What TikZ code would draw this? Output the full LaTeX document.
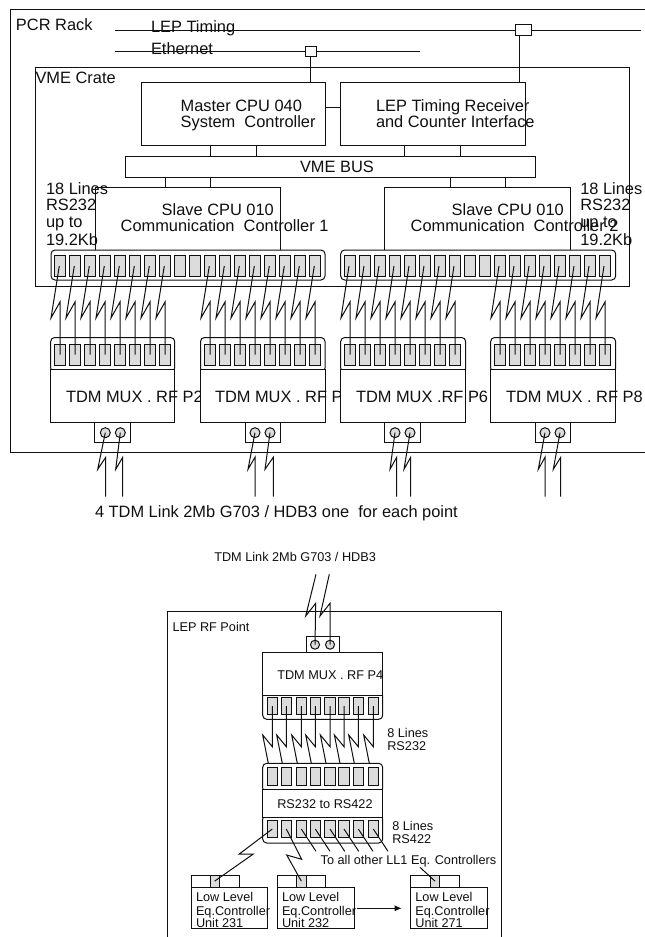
\documentclass[tikz,border=0pt]{standalone}
\usepackage{fontspec}
\setmainfont{Liberation Sans}
\usetikzlibrary{arrows.meta,calc}
\definecolor{cellgray}{HTML}{DCDCDC}
\definecolor{ink}{HTML}{101010}
\newcommand{\bx}[6][boxst]{%
  \pgfmathsetmacro{\bxw}{#5-#3}\pgfmathsetmacro{\bxh}{#6-#4}%
  \pgfmathsetmacro{\bxx}{(#5+#3)/2}\pgfmathsetmacro{\bxy}{(#6+#4)/2}%
  \node[#1,minimum width=\bxw pt,minimum height=\bxh pt] (#2) at (\bxx,\bxy) {};}
\tikzset{
  x=1pt,y=-1pt,
  boxst/.style={draw=ink,fill=white,line width=1pt,inner sep=0pt,outer sep=0pt,rectangle},
  strip/.style={boxst,rounded corners=4pt},
  cell/.style={draw=ink,fill=cellgray,line width=1pt,inner sep=0pt,outer sep=0pt,rectangle,minimum width=11pt,minimum height=21pt},
  cellb/.style={cell,minimum width=10.5pt,minimum height=17.5pt},
  port/.style={draw=ink,fill=cellgray,line width=1pt,circle,inner sep=0pt,outer sep=0pt,minimum size=10pt},
  wire/.style={draw=ink,line width=1pt,line join=miter},
  big/.style={font=\fontsize{16.4}{16}\selectfont,anchor=base west,inner sep=0pt,outer sep=0pt,align=left,text=ink},
  small/.style={font=\fontsize{12.7}{13}\selectfont,anchor=base west,inner sep=0pt,outer sep=0pt,align=left,text=ink},
}
\begin{document}
\begin{tikzpicture}
\useasboundingbox[fill=white] (0,0) rectangle (645,937);
% PCR rack frame
\coordinate (rA) at (645,9); \coordinate (rB) at (10,9); \coordinate (rC) at (10,452); \coordinate (rD) at (645,452);
\draw[wire] (rA) -- (rB) -- (rC) -- (rD);
\node[big] (tRack) at (16,30.7) {PCR Rack};
% bus lines
\coordinate (lA) at (115,30.5); \coordinate (lB) at (641,30.5);
\coordinate (eA) at (115,51.5); \coordinate (eB) at (420,51.5);
\draw[wire] (lA) -- (lB);
\draw[wire] (eA) -- (eB);
\node[big] (tLep) at (151,32.7) {LEP Timing};
\node[big] (tEth) at (151,54.3) {Ethernet};
\bx{tapE}{305}{46}{316}{56}
\bx{tapL}{515}{24.5}{531}{35}
% VME crate
\bx{crate}{35}{67}{629.7}{286}
\bx{master}{141}{82}{325}{145}
\bx{lepbox}{340.5}{82}{525.5}{145}
\draw[wire] (tapE.south) -- (310.5,82);
\draw[wire] (519.5,35) -- (519.5,82);
\draw[wire] (325,107.5) -- (340.5,107.5);
\node[big] (tVme) at (35.5,83.3) {VME Crate};
\node[big] (tMaster1) at (180.7,111) {Master CPU 040};
\node[big] (tMaster2) at (180.7,127) {System\ \ Controller};
\node[big] (tLepA) at (376,111) {LEP Timing Receiver};
\node[big] (tLepB) at (376,127) {and Counter Interface};
\bx{lnkA}{210}{145}{256}{156}
\bx{lnkB}{404}{145}{460}{156}
\bx{bus}{125.5}{156}{535}{177}
\node[big] (tBus) at (300,172.7) {VME BUS};
\bx{lnkC}{165}{177}{210}{187}
\bx{lnkD}{450}{177}{505.5}{187}
\bx{slaveA}{95}{187}{280}{250}
\bx{slaveB}{384.5}{187}{570}{250}
\node[big] (tSa1) at (161.7,215.7) {Slave CPU 010};
\node[big] (tSa2) at (120.7,231.7) {Communication\ \ Controller 1};
\node[big] (tSb1) at (451.7,215.7) {Slave CPU 010};
\node[big] (tSb2) at (410.7,231.7) {Communication\ \ Controller 2};
\foreach \nm/\xx in {La/46,Lb/580.3}{
  \node[big] (t\nm1) at (\xx,194) {18 Lines};
  \node[big] (t\nm2) at (\xx,210) {RS232};
  \node[big] (t\nm3) at (\xx,227.3) {up to};
  \node[big] (t\nm4) at (\xx,245) {19.2Kb};
}
% large connector strips
\bx[strip]{stripA}{51}{250}{325}{280}
\bx[strip]{stripB}{340.7}{250}{615.7}{280}
\foreach \i in {0,...,17}{
  \node[cell] (a\i) at ({60.3+15*\i},265.5) {};
  \node[cell] (b\i) at ({350+15*\i},265.5) {};
}
% multiplexers: each box hides the overflow of the previous label
\foreach \k/\xl/\xr/\tl/\lab in {1/50.7/174.7/66/{TDM MUX . RF P2},2/200.5/325/215/{TDM MUX . RF P2},3/340.7/465.7/356/{TDM MUX .RF P6},4/490.7/615.7/506/{TDM MUX . RF P8}}{
  \bx[strip]{mstrip\k}{\xl}{337.5}{\xr}{372}
  \bx{mux\k}{\xl}{369.5}{\xr}{422}
  \node[big] (tMux\k) at (\tl,402.7) {\lab};
}
\foreach \k/\xo in {1/60,2/210,3/350,4/500}{
  \foreach \i in {0,...,7}{
    \node[cell] (m\k-\i) at ({\xo+15*\i},354.5) {};
  }
}
% serial lines, crate to multiplexers
\foreach \i in {0,...,7}{
  \pgfmathtruncatemacro{\j}{\i+10}
  \draw[wire] ($(a\i.center)+(-1,0.5)$) -- ($(m1-\i.center)+(-9,-36.5)$) -- ($(m1-\i.center)+(0,-52.5)$) -- (m1-\i.center);
  \draw[wire] ($(a\j.center)+(-1,0.5)$) -- ($(m2-\i.center)+(-9,-36.5)$) -- ($(m2-\i.center)+(0,-52.5)$) -- (m2-\i.center);
  \draw[wire] ($(b\i.center)+(-1,0.5)$) -- ($(m3-\i.center)+(-9,-36.5)$) -- ($(m3-\i.center)+(0,-52.5)$) -- (m3-\i.center);
  \draw[wire] ($(b\j.center)+(-1,0.5)$) -- ($(m4-\i.center)+(-9,-36.5)$) -- ($(m4-\i.center)+(0,-52.5)$) -- (m4-\i.center);
}
% TDM ports
\bx{pb1}{94.7}{422}{130}{442.5}
\bx{pb2}{245}{422}{280.7}{442.5}
\bx{pb3}{384.3}{422}{420}{442.5}
\bx{pb4}{535}{422}{570.7}{442.5}
\foreach \n/\xx in {p1a/105.3,p1b/120.3,p2a/255,p2b/270,p3a/395,p3b/410,p4a/545,p4b/560}{
  \node[port] (\n) at (\xx,432.7) {};
}
\foreach \n/\lo/\hi in {p1a/97.7/105.7,p1b/115.7/122.7,p2a/248/255,p2b/265/273.3,p3a/390/396.7,p3b/404/410.7,p4a/538.3/545,p4b/553.3/560.7}{
  \coordinate (\n-end) at (\hi,496.7);
  \draw[wire] (\n.center) -- (\lo,469.3) -- (\hi,457.3) -- (\n-end);
}
\node[big] (tLinks) at (95,517) {4 TDM Link 2Mb G703 / HDB3 one\ \ for each point};
% ---------- LEP RF point ----------
\node[small] (tLink) at (214.3,561) {TDM Link 2Mb G703 / HDB3};
\coordinate (fA) at (167.5,937); \coordinate (fB) at (167.5,611.7); \coordinate (fC) at (501.7,611.7); \coordinate (fD) at (501.7,937);
\draw[wire] (fA) -- (fB) -- (fC) -- (fD);
\node[small] (tPoint) at (172.5,631.7) {LEP RF Point};
\bx{pbL}{306}{636}{339.3}{652.7}
\node[port,minimum size=9pt] (pLa) at (315,644.7) {};
\node[port,minimum size=9pt] (pLb) at (330,644.7) {};
\coordinate (pLa-end) at (316,574.3);
\coordinate (pLb-end) at (329.3,574.3);
\draw[wire] (pLa.center) -- (315.7,603.3) -- (305.7,616) -- (pLa-end);
\draw[wire] (pLb.center) -- (330,603.3) -- (320,616) -- (pLb-end);
\bx[strip]{sL1}{262.7}{692}{382.7}{719.3}
\bx{muxL}{262.7}{652.7}{382.7}{695}
\node[small] (tMuxL) at (277.3,679.3) {TDM MUX . RF P4};
\bx[strip]{sL2}{262.7}{763.3}{382.7}{792}
\bx[strip]{sL3}{262.7}{815}{382.7}{843}
\bx{conv}{262.7}{789.3}{382.7}{817.7}
\node[small] (tConv) at (277.3,808.3) {RS232 to RS422};
\foreach \i/\xx in {0/272.3,1/286.3,2/301.3,3/315.3,4/330,5/344,6/358.3,7/373.3}{
  \node[cellb] (u\i) at (\xx,706.2) {};
  \node[cellb] (v\i) at (\xx,776.3) {};
  \node[cellb,minimum height=16.6pt] (w\i) at (\xx,829) {};
  \draw[wire] (u\i.center) -- (\xx,746.7) -- ({\xx-9.6},735) -- ({\xx-4},763.3);
}
\node[small] (tL232a) at (387.3,737.3) {8 Lines};
\node[small] (tL232b) at (387.3,750) {RS232};
\node[small] (tL422a) at (392.3,830.7) {8 Lines};
\node[small] (tL422b) at (392.3,843.3) {RS422};
% controllers
\foreach \n/\xa/\xb/\xc/\ca/\cb/\lab in {cA/191.3/239.3/267.7/210/219.3/Unit 231,cB/277.3/325/354/296.7/306/Unit 232,cC/410.7/459/487.3/430.7/439.3/Unit 271}{
  \bx{\n top}{\xa}{875}{\xb}{887.3}
  \bx[cell]{\n cell}{\ca}{875}{\cb}{887.3}
  \bx{\n}{\xa}{887.3}{\xc}{928.3}
  \node[small] (\n t1) at ({\xa+4.7},901.7) {Low Level};
  \node[small] (\n t2) at ({\xa+4.7},915.7) {Eq.Controller};
  \node[small] (\n t3) at ({\xa+4.7},927.3) {\lab};
}
\foreach \i in {2,...,7}{
  \draw[wire] (w\i.center) -- ++(14.7,22.3);
}
\draw[wire] (w0.center) -- (239.3,854) -- (253.3,854) -- (cAcell.center);
\draw[wire] (w1.center) -- (301.7,859.3) -- (286.7,855) -- (cBcell.center);
\coordinate (toC) at (420,867.3);
\draw[wire] (toC) -- (cCcell.center);
\node[small] (tAll) at (320.7,864.3) {To all other LL1 Eq. Controllers};
\draw[wire,-{Latex[length=7pt,width=6pt]}] (356.7,908.3) -- (401.7,908.3);
\end{tikzpicture}
\end{document}
